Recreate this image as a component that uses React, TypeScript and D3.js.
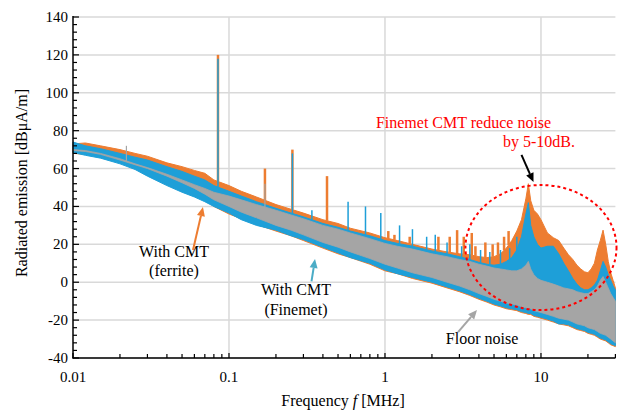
import React from 'react';
import * as d3 from 'd3';

// Frequency grid (MHz) for envelopes
const FREQ = [0.01, 0.012, 0.015, 0.02, 0.025, 0.03, 0.04, 0.05, 0.06, 0.07,
  0.08, 0.1, 0.12, 0.15, 0.2, 0.25, 0.3, 0.4, 0.5, 0.6,
  0.8, 1, 1.2, 1.5, 2, 2.5, 3, 3.5, 4, 4.5,
  5, 5.5, 6, 6.5, 7, 7.5, 8, 8.3, 8.6, 9,
  9.5, 10, 11, 12, 13, 14, 15, 16, 17, 18,
  19, 20, 21, 22, 23, 24, 25, 26, 27, 28,
  29, 30];

// With CMT (ferrite) envelope
const FERRITE_HI = [73, 73.5, 72, 70, 68, 66.5, 63, 61, 59, 57.5,
  54, 51, 48, 45, 41, 38.5, 36.5, 33, 31, 28.5,
  26, 23.5, 22, 20, 17.5, 16, 15, 14.5, 13.5, 13,
  13.5, 15, 18, 22, 27, 33, 44, 52, 43, 38,
  36, 33, 26, 23.5, 22, 18, 14.5, 12, 9, 7,
  5.5, 5, 7, 10, 17, 22, 27.5, 20, 11, 5,
  1, -3];
const FERRITE_LO = [68, 67.5, 66.5, 63.5, 60, 57, 51.5, 48, 45.5, 43.5,
  40, 36, 33.5, 30.5, 27, 24.5, 22, 18, 15, 13,
  9.5, 6, 4.5, 2, -0.5, -3, -5, -7, -9, -10.5,
  -12, -13, -14, -14.5, -15, -16, -16.5, -17, -17, -18,
  -18.5, -19, -20, -21, -22, -22.5, -23, -24, -25, -25.5,
  -26, -27, -27.5, -28, -29, -30, -30.5, -31, -32, -33,
  -33.5, -34];

// With CMT (Finemet) envelope
const FINEMET_HI = [74, 72, 70.5, 68, 66, 64.5, 61, 58.5, 56, 54,
  51, 48, 45.5, 42.5, 39, 36.5, 34.5, 31, 29, 27,
  24.5, 22, 20.5, 19, 16.5, 15, 13.5, 12, 10.5, 9.5,
  9, 9.5, 11, 13, 17, 24, 36, 42, 30, 24,
  20, 18, 19, 19, 15, 10, 6, 2, -1, -3,
  -4, -4, -3, -1.5, 1, 6, 11, 8, 4, 1,
  -2, -4];
const FINEMET_LO = [68.5, 67, 65.5, 62.5, 59.5, 56, 51, 47.5, 45, 42.5,
  40, 36.5, 33, 30, 27.5, 24.5, 22.5, 18.5, 15.5, 13,
  10, 6.5, 4.5, 2.5, 0, -2.5, -4.5, -6.5, -8.5, -10,
  -11.5, -12.5, -13.5, -14, -14.5, -15.5, -16, -16.5, -16.5, -17.5,
  -18, -18.5, -19.5, -20.5, -22, -22, -22.5, -23.5, -24.5, -25,
  -25.5, -26.5, -27, -27.5, -28.5, -29.5, -30, -30.5, -31.5, -32.5,
  -33, -33.5];

// Floor noise envelope
const FLOOR_HI = [70, 69.5, 68, 65.2, 62.5, 60.5, 57, 54, 51.5, 49.5,
  47.5, 45.5, 43.5, 41, 38, 35.5, 33.5, 30, 28, 26,
  23, 20.5, 19, 17.5, 15, 13.5, 12, 11, 9.5, 8.5,
  7.5, 7, 6.5, 6, 6, 7, 9, 11, 7, 4,
  2, 1, 0, -1, -2, -3, -3.5, -4, -5, -5.5,
  -6, -6, -5, -4, -2, 1, 3, 0, -3, -6,
  -8, -10];
const FLOOR_LO = [69.5, 69, 67.5, 64.5, 62, 60, 56, 52.5, 49.5, 46.5,
  43.5, 40, 37, 34, 30, 27.5, 25, 21, 18.5, 16,
  12.5, 9.5, 7.5, 5, 2.5, 0, -2, -4, -6, -7.5,
  -9, -10, -11, -11.5, -12, -13, -13.5, -14, -14, -15,
  -15.5, -16, -17, -18, -19, -19.5, -20, -21, -22, -22.5,
  -23, -24, -24.5, -25, -26, -27, -27.5, -28, -29, -30,
  -31, -32];

// Narrow spectral spikes [frequency MHz, level dBuA/m]
const FERRITE_SPIKES: [number, number][] = [
  [0.085, 120], [0.17, 60], [0.255, 70], [0.425, 56],
  [1.05, 27], [1.15, 25], [1.44, 24], [2.2, 24], [2.6, 24], [2.9, 27.5],
  [3.2, 24], [3.6, 26], [3.8, 19], [4.4, 21], [4.9, 20], [5.3, 21], [5.8, 24], [6.2, 27]];
const FINEMET_SPIKES: [number, number][] = [
  [0.085, 118], [0.255, 68], [0.34, 38], [0.58, 42.5], [0.75, 40], [0.94, 36.5],
  [1.24, 30], [1.5, 28], [1.85, 24], [2.1, 25], [2.5, 21], [3.1, 19], [3.5, 20],
  [4.1, 17], [4.7, 16], [5.5, 17], [6.3, 18], [7.0, 24]];
const FLOOR_SPIKES: [number, number][] = [[0.022, 72], [0.17, 52]];

const Y_TICKS = [-40, -20, 0, 20, 40, 60, 80, 100, 120, 140];
const X_TICKS = [0.01, 0.1, 1, 10];
const X_TICK_LABELS = ['0.01', '0.1', '1', '10'];

const ORANGE = '#ED7D31';
const BLUE = '#1E9FD8';
const GRAY = '#A5A5A5';
const FONT = "'Liberation Serif', 'Times New Roman', serif";

const W = 625, H = 412;
const x = d3.scaleLog().domain([0.01, 30]).range([73, 615.4]);
const y = d3.scaleLinear().domain([-40, 140]).range([358, 17]);

function interpAt(arr: number[], f: number) {
  const lf = Math.log10(f);
  const i = Math.max(1, Math.min(FREQ.length - 1, d3.bisectLeft(FREQ, f)));
  const l0 = Math.log10(FREQ[i - 1]), l1 = Math.log10(FREQ[i]);
  const t = (lf - l0) / (l1 - l0);
  return arr[i - 1] + t * (arr[i] - arr[i - 1]);
}

function band(hi: number[], lo: number[]) {
  const rows = FREQ.map((f, i) => ({ f, hi: hi[i], lo: lo[i] }));
  return d3.area<{ f: number; hi: number; lo: number }>()
    .x(d => x(d.f)).y0(d => y(d.lo)).y1(d => y(d.hi))(rows) || '';
}

function Arrow({ from, to, color }: { from: [number, number]; to: [number, number]; color: string }) {
  const x1 = x(from[0]), y1 = y(from[1]), x2 = x(to[0]), y2 = y(to[1]);
  const ang = Math.atan2(y2 - y1, x2 - x1);
  const L = 9, Wd = 4;
  const bx = x2 - L * Math.cos(ang), by = y2 - L * Math.sin(ang);
  const px = -Math.sin(ang) * Wd, py = Math.cos(ang) * Wd;
  return (
    <g>
      <line x1={x1} y1={y1} x2={bx} y2={by} stroke={color} strokeWidth={2} />
      <polygon points={`${x2},${y2} ${bx + px},${by + py} ${bx - px},${by - py}`} fill={color} />
    </g>
  );
}

export default function App() {
  const minorX: number[] = [];
  for (const dec of [0.01, 0.1, 1, 10]) for (let k = 2; k <= 9; k++) { const v = dec * k; if (v <= 30) minorX.push(v); }
  const minorY: number[] = [];
  for (let v = -40; v <= 140; v += 4) minorY.push(v);

  const spikes = (list: [number, number][], hi: number[], color: string, w: number) =>
    list.map(([f, v], i) => (
      <line key={i} x1={x(f)} x2={x(f)} y1={y(interpAt(hi, f))} y2={y(v)} stroke={color} strokeWidth={w} />
    ));

  const tick = { fontFamily: FONT, fontSize: 15 } as React.CSSProperties;
  const txt = { fontFamily: FONT, fontSize: 16 } as React.CSSProperties;

  return (
    <svg width={W} height={H} style={{ position: 'absolute', left: 0, top: 0, background: '#fff', fontFamily: FONT }}>
      {/* grid */}
      {Y_TICKS.map(t => (
        <line key={'gy' + t} x1={73} x2={615.4} y1={y(t)} y2={y(t)} stroke="#d9d9d9" strokeWidth={1.5} />
      ))}
      {X_TICKS.slice(1).map(t => (
        <line key={'gx' + t} x1={x(t)} x2={x(t)} y1={17} y2={358} stroke="#d9d9d9" strokeWidth={1.5} />
      ))}

      {/* series */}
      <path d={band(FERRITE_HI, FERRITE_LO)} fill={ORANGE} stroke={ORANGE} strokeWidth={1} />
      {spikes(FERRITE_SPIKES, FERRITE_HI, ORANGE, 2.5)}
      <path d={band(FINEMET_HI, FINEMET_LO)} fill={BLUE} stroke={BLUE} strokeWidth={1} />
      {spikes(FINEMET_SPIKES, FINEMET_HI, BLUE, 1.5)}
      <path d={band(FLOOR_HI, FLOOR_LO)} fill={GRAY} stroke={GRAY} strokeWidth={0.8} />
      {spikes(FLOOR_SPIKES, FLOOR_HI, GRAY, 1.2)}

      {/* axes */}
      <line x1={73} x2={73} y1={16} y2={358.5} stroke="#000" strokeWidth={1.5} />
      <line x1={72.5} x2={615.4} y1={358} y2={358} stroke="#000" strokeWidth={1.5} />
      {minorY.map(v => (
        <line key={'ty' + v} x1={73} x2={v % 20 === 0 ? 79 : 77} y1={y(v)} y2={y(v)} stroke="#000" strokeWidth={1.2} />
      ))}
      {minorX.map(v => (
        <line key={'tx' + v} x1={x(v)} x2={x(v)} y1={358} y2={354} stroke="#000" strokeWidth={1.2} />
      ))}
      {X_TICKS.map(v => (
        <line key={'tX' + v} x1={x(v)} x2={x(v)} y1={358} y2={353} stroke="#000" strokeWidth={1.2} />
      ))}

      {/* tick labels */}
      {Y_TICKS.map(t => (
        <text key={'ly' + t} x={68} y={y(t) + 5} textAnchor="end" style={tick} fill="#000">{t}</text>
      ))}
      {X_TICKS.map((t, i) => (
        <text key={'lx' + t} x={x(t)} y={382} textAnchor="middle" style={tick} fill="#000">{X_TICK_LABELS[i]}</text>
      ))}

      {/* axis titles */}
      <text transform={`translate(27,183) rotate(-90)`} textAnchor="middle" style={txt} fill="#000">Radiated emission [dBμA/m]</text>
      <text x={343} y={406} textAnchor="middle" style={txt} fill="#000">
        Frequency <tspan fontStyle="italic">f</tspan> [MHz]
      </text>

      {/* annotations */}
      <ellipse cx={(x(3.28) + x(30.5)) / 2} cy={(y(51.3) + y(-14.7)) / 2}
        rx={(x(30.5) - x(3.28)) / 2} ry={(y(-14.7) - y(51.3)) / 2}
        fill="none" stroke="#ff0000" strokeWidth={2} strokeDasharray="3 3" />
      <text x={x(0.875)} y={y(81.4)} style={txt} fill="#ff0000">Finemet CMT reduce noise</text>
      <text x={x(5.7)} y={y(71.4)} style={txt} fill="#ff0000">by 5-10dB.</text>
      <Arrow from={[7.5, 67.2]} to={[8.96, 52.9]} color="#000" />

      <text x={x(0.0444)} y={y(13.3)} textAnchor="middle" style={txt} fill="#000">With CMT</text>
      <text x={x(0.0444)} y={y(3.3)} textAnchor="middle" style={txt} fill="#000">(ferrite)</text>
      <Arrow from={[0.0588, 17]} to={[0.0681, 39.7]} color={ORANGE} />

      <text x={x(0.2686)} y={y(-6.7)} textAnchor="middle" style={txt} fill="#000">With CMT</text>
      <text x={x(0.2686)} y={y(-17.3)} textAnchor="middle" style={txt} fill="#000">(Finemet)</text>
      <Arrow from={[0.338, 0.4]} to={[0.356, 12.3]} color="#4BACC6" />

      <text x={x(4.19)} y={y(-32.6)} textAnchor="middle" style={txt} fill="#000">Floor noise</text>
      <Arrow from={[2.94, -26.3]} to={[3.89, -14.7]} color={GRAY} />
    </svg>
  );
}
